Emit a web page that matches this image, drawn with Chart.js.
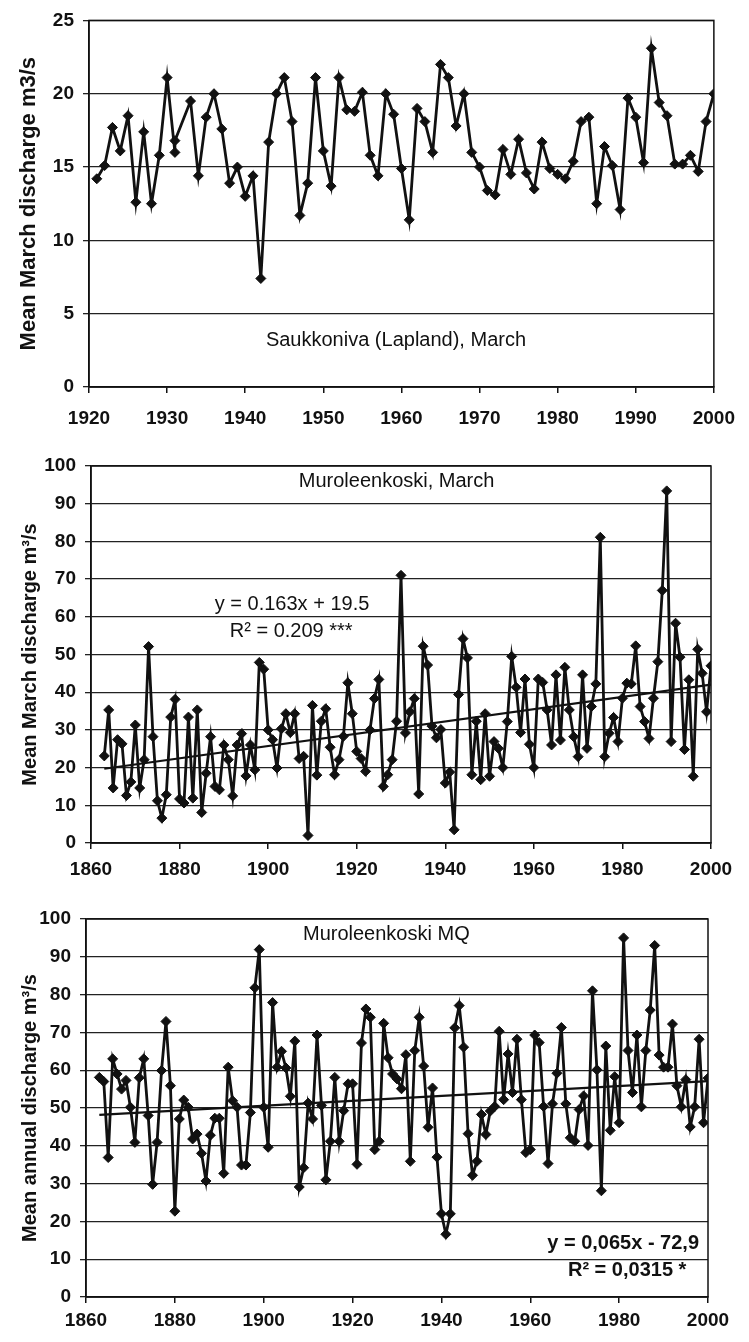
<!DOCTYPE html>
<html>
<head>
<meta charset="utf-8">
<script src="https://cdn.jsdelivr.net/npm/chart.js@4.4.1/dist/chart.umd.min.js"></script>
<style>
  body { margin: 0; background: #fff; }
  #wrap { position: relative; width: 749px; height: 1342px; }
  canvas { position: absolute; left: 0; }
</style>
</head>
<body>
<div id="wrap">
  <canvas id="saukko" width="749" height="440" style="top:0"></canvas>
  <canvas id="muroMarch" width="749" height="450" style="top:440px"></canvas>
  <canvas id="muroMQ" width="749" height="452" style="top:890px"></canvas>
</div>
<script>
// Saukkoniva (Lapland), mean March discharge
const saukkoYears = [1921, 1922, 1923, 1924, 1925, 1926, 1927, 1928, 1929, 1930,
  1931, 1931, 1933, 1934, 1935, 1936, 1937, 1938, 1939, 1940,
  1941, 1942, 1943, 1944, 1945, 1946, 1947, 1948, 1949, 1950,
  1951, 1952, 1953, 1954, 1955, 1956, 1957, 1958, 1959, 1960,
  1961, 1962, 1963, 1964, 1965, 1966, 1967, 1968, 1969, 1970,
  1971, 1972, 1973, 1974, 1975, 1976, 1977, 1978, 1979, 1980,
  1981, 1982, 1983, 1984, 1985, 1986, 1987, 1988, 1989, 1990,
  1991, 1992, 1993, 1994, 1995, 1996, 1997, 1998, 1999, 2000];
const saukkoMarch = [14.2, 15.1, 17.7, 16.1, 18.5, 12.6, 17.4, 12.5, 15.8, 21.1,
  16.0, 16.8, 19.5, 14.4, 18.4, 20.0, 17.6, 13.9, 15.0, 13.0,
  14.4, 7.4, 16.7, 20.0, 21.1, 18.1, 11.7, 13.9, 21.1, 16.1,
  13.7, 21.1, 18.9, 18.8, 20.1, 15.8, 14.4, 20.0, 18.6, 14.9,
  11.4, 19.0, 18.1, 16.0, 22.0, 21.1, 17.8, 20.0, 16.0, 15.0,
  13.4, 13.1, 16.2, 14.5, 16.9, 14.6, 13.5, 16.7, 14.9, 14.5,
  14.2, 15.4, 18.1, 18.4, 12.5, 16.4, 15.1, 12.1, 19.7, 18.4,
  15.3, 23.1, 19.4, 18.5, 15.2, 15.2, 15.8, 14.7, 18.1, 20.0];

// Muroleenkoski, one value per year from 1863 to 2000
const muroFirstYear = 1863;
const muroMarch = [23.1, 35.3, 14.6, 27.4, 26.3, 12.6, 16.2, 31.3, 14.6, 22.1,
  52.1, 28.2, 11.2, 6.6, 12.8, 33.4, 38.1, 11.7, 10.6, 33.4,
  11.9, 35.3, 8.1, 18.5, 28.2, 15.0, 14.1, 26.0, 22.1, 12.5,
  26.0, 29.0, 17.8, 26.0, 19.4, 47.9, 46.1, 30.0, 27.4, 19.9,
  30.3, 34.3, 29.3, 34.3, 22.4, 23.0, 2.0, 36.5, 18.0, 32.3,
  35.6, 25.4, 18.1, 22.1, 28.3, 42.5, 34.3, 24.3, 22.4, 19.0,
  30.0, 38.3, 43.4, 15.0, 18.1, 22.1, 32.3, 71.0, 29.2, 34.8,
  38.3, 13.0, 52.2, 47.2, 31.0, 27.9, 30.1, 15.9, 18.8, 3.5,
  39.4, 54.2, 49.1, 18.1, 32.3, 16.8, 34.3, 17.7, 26.9, 25.1,
  20.0, 32.2, 49.5, 41.3, 29.3, 43.5, 26.2, 20.0, 43.5, 42.6,
  35.3, 26.0, 44.6, 27.3, 46.6, 35.3, 28.2, 22.9, 44.6, 25.1,
  36.2, 42.2, 81.1, 22.9, 29.1, 33.3, 26.9, 38.4, 42.4, 42.2,
  52.3, 36.2, 32.2, 27.7, 38.4, 48.1, 67.0, 93.4, 26.9, 58.3,
  49.3, 24.8, 43.3, 17.7, 51.4, 45.0, 34.8, 47.0];
const muroMQ = [58.1, 57.0, 36.9, 63.0, 59.0, 55.0, 57.3, 50.2, 40.9, 58.0,
  63.0, 48.0, 29.8, 40.9, 59.9, 72.9, 55.9, 22.7, 47.1, 52.1,
  50.2, 41.8, 43.1, 38.0, 30.7, 42.8, 47.3, 47.3, 32.7, 60.8,
  51.9, 50.2, 34.9, 34.9, 48.8, 81.8, 91.9, 50.2, 39.6, 77.9,
  60.8, 65.0, 60.6, 53.1, 67.7, 29.1, 34.2, 51.3, 47.1, 69.3,
  50.7, 31.0, 41.2, 58.1, 41.2, 49.3, 56.4, 56.4, 35.1, 67.2,
  76.2, 74.0, 39.0, 41.2, 72.4, 63.3, 59.0, 57.7, 55.1, 64.1,
  35.9, 65.2, 74.0, 61.1, 44.9, 55.3, 37.0, 22.0, 16.6, 22.0,
  71.2, 77.1, 66.1, 43.2, 32.2, 35.9, 48.3, 43.0, 49.2, 50.4,
  70.3, 52.2, 64.3, 54.1, 68.2, 52.2, 38.2, 39.0, 69.3, 67.3,
  50.4, 35.3, 51.1, 59.2, 71.3, 51.1, 42.1, 41.2, 49.6, 53.2,
  40.1, 81.0, 60.1, 28.1, 66.4, 44.1, 58.3, 46.1, 95.0, 65.2,
  54.1, 69.3, 50.3, 65.2, 75.9, 93.0, 64.0, 60.8, 60.8, 72.2,
  55.9, 50.3, 57.5, 45.0, 50.3, 68.2, 46.1, 57.9];

// linear trend lines, ends
const trendYears = [1863, 2000];
const trendMarch = [19.7, 42.0];
const trendMQ = [48.2, 57.1];

const INK = '#111';
Chart.defaults.font.family = "'Liberation Sans', Arial, sans-serif";
Chart.defaults.color = INK;

const tickFont = { size: 19, weight: 'bold' };
const noteFont = "20px 'Liberation Sans', Arial, sans-serif";
const eqFont = "bold 20px 'Liberation Sans', Arial, sans-serif";

// plot frame + text boxes placed on data coordinates
const notesPlugin = {
  id: 'notes',
  afterDatasetsDraw(chart, args, opts) {
    const { ctx, chartArea: a, scales } = chart;
    ctx.save();
    ctx.strokeStyle = INK;
    ctx.lineWidth = 1.5;
    ctx.strokeRect(a.left, a.top, a.right - a.left, a.bottom - a.top);
    ctx.fillStyle = INK;
    ctx.textBaseline = 'middle';
    (opts.items || []).forEach((n) => {
      ctx.font = n.font;
      ctx.textAlign = n.align || 'center';
      ctx.fillText(n.text, scales.x.getPixelForValue(n.x), scales.y.getPixelForValue(n.y));
    });
    ctx.restore();
  }
};

const muroYears = muroMarch.map((v, i) => muroFirstYear + i);

function drawPanel(id, o) {
  const datasets = [{
    data: o.years.map((yr, i) => ({ x: yr, y: o.values[i] })),
    showLine: true,
    borderColor: INK,
    borderWidth: 2.8,
    pointStyle: 'rectRot',
    pointRadius: 5,
    pointBackgroundColor: INK,
    pointBorderColor: INK,
    pointBorderWidth: 1,
    tension: 0
  }];
  if (o.trend) {
    datasets.push({
      data: trendYears.map((yr, i) => ({ x: yr, y: o.trend[i] })),
      showLine: true,
      borderColor: INK,
      borderWidth: 2.2,
      pointRadius: 0
    });
  }
  return new Chart(document.getElementById(id), {
    type: 'scatter',
    data: { datasets },
    options: {
      responsive: false,
      animation: false,
      layout: { padding: { top: o.top, right: o.right, left: 0, bottom: 0 } },
      plugins: {
        legend: { display: false },
        tooltip: { enabled: false },
        notes: { items: o.notes }
      },
      scales: {
        x: {
          type: 'linear',
          min: o.xMin,
          max: 2000,
          ticks: { stepSize: o.xStep, padding: o.xPad, font: tickFont, maxRotation: 0, callback: (v) => String(v) },
          grid: { drawOnChartArea: false, tickLength: 6, color: INK, lineWidth: 1.5 },
          border: { color: INK, width: 1.5 },
          afterFit: (s) => { s.height = o.xHeight; }
        },
        y: {
          min: 0,
          max: o.yMax,
          ticks: { stepSize: o.yStep, padding: 9, font: tickFont },
          grid: { color: '#222', lineWidth: 1.3, tickLength: 6 },
          border: { color: INK, width: 1.5 },
          title: {
            display: true, text: o.yTitle,
            font: { size: o.titleSize, weight: 'bold' },
            padding: { top: o.titlePad, bottom: 0 }
          },
          afterFit: (s) => { s.width = o.left; }
        }
      }
    },
    plugins: [notesPlugin]
  });
}

drawPanel('saukko', {
  years: saukkoYears, values: saukkoMarch,
  xMin: 1920, xStep: 10, yMax: 25, yStep: 5,
  yTitle: 'Mean March discharge m3/s', titleSize: 22, titlePad: 16,
  top: 15, right: 26, left: 89, xHeight: 53, xPad: 14,
  notes: [
    { text: 'Saukkoniva (Lapland), March', x: 1959.3, y: 3.2, font: noteFont }
  ]
});

drawPanel('muroMarch', {
  years: muroYears, values: muroMarch, trend: trendMarch,
  xMin: 1860, xStep: 20, yMax: 100, yStep: 10,
  yTitle: 'Mean March discharge m³/s', titleSize: 20, titlePad: 18,
  top: 26, right: 38, left: 91, xHeight: 47, xPad: 9,
  notes: [
    { text: 'Muroleenkoski, March', x: 1929, y: 96, font: noteFont },
    { text: 'y = 0.163x + 19.5', x: 1905.4, y: 63.3, font: noteFont },
    { text: 'R² = 0.209 ***', x: 1905.2, y: 56, font: noteFont }
  ]
});

drawPanel('muroMQ', {
  years: muroYears, values: muroMQ, trend: trendMQ,
  xMin: 1860, xStep: 20, yMax: 100, yStep: 10,
  yTitle: 'Mean annual discharge m³/s', titleSize: 20, titlePad: 18,
  top: 29, right: 41, left: 86, xHeight: 45, xPad: 6,
  notes: [
    { text: 'Muroleenkoski MQ', x: 1927.6, y: 95.8, font: noteFont },
    { text: 'y = 0,065x - 72,9', x: 1980.9, y: 14.2, font: eqFont },
    { text: 'R² = 0,0315 *', x: 1981.8, y: 7.1, font: eqFont }
  ]
});
</script>
</body>
</html>
